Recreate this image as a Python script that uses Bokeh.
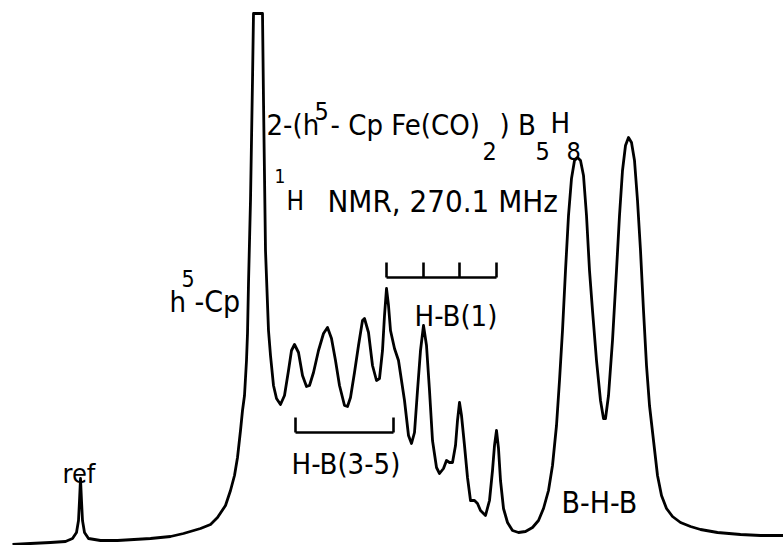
from bokeh.plotting import figure
from bokeh.models import Range1d
from bokeh.core.properties import value
from bokeh.embed import file_html
from bokeh.resources import INLINE

# Spectrum trace: horizontal position (chart units) and signal height
shift = [12, 30, 50, 65, 72, 76, 78, 79, 80, 81, 82, 84, 88, 100, 117, 150, 170, 183, 200, 210,
         217, 225, 230, 234, 237, 240, 242, 244, 246, 247, 248, 250, 252, 253, 262, 263, 265, 268,
         270, 273, 276, 280, 284, 288, 291, 294, 298, 302, 306, 309, 313, 318, 323, 327, 331, 335,
         339, 344, 347, 350, 354, 358, 362, 364, 368, 372, 376, 379, 382, 384, 386, 388, 390, 394,
         398, 401, 404, 408, 411, 414, 417, 420, 423, 426, 429, 432, 436, 439, 443, 446, 449, 452,
         455, 457, 459, 461, 464, 467, 470, 474, 477, 480, 485, 489, 492, 494, 496, 498, 500, 503,
         507, 512, 518, 525, 532, 538, 543, 548, 552, 556, 559, 562, 565, 568, 571, 574, 577, 580,
         583, 586, 589, 592, 596, 600, 603, 605, 608, 612, 616, 619, 622, 625, 628, 631, 634, 637,
         640, 643, 646, 649, 653, 657, 661, 666, 672, 680, 690, 700, 717, 740, 760, 783]
signal = [1, 2, 3, 4, 7, 13, 25, 45, 67, 45, 25, 13, 7, 5, 5, 7, 9, 12, 17, 21,
          28, 40, 55, 70, 88, 115, 135, 150, 185, 212, 262, 345, 465, 532, 532, 445, 295, 215,
          190, 160, 147, 141, 150, 175, 195, 201, 193, 170, 159, 160, 173, 195, 212, 218, 207, 185,
          160, 140, 139, 148, 173, 200, 225, 227, 213, 180, 165, 167, 195, 230, 257, 240, 215, 197,
          185, 165, 145, 110, 102, 113, 155, 195, 220, 200, 155, 105, 78, 72, 77, 85, 83, 83,
          100, 125, 143, 130, 100, 68, 45, 45, 42, 35, 30, 45, 75, 100, 115, 97, 65, 37,
          23, 15, 13, 14, 18, 25, 37, 55, 80, 120, 165, 215, 275, 330, 367, 385, 388, 385,
          370, 330, 275, 235, 185, 145, 127, 127, 150, 205, 275, 330, 375, 400, 408, 403, 385, 345,
          295, 235, 180, 140, 105, 70, 50, 37, 29, 23, 19, 16, 13, 11, 10, 10]

# Assignment brackets (peak positions)
hb1_peaks = [386, 423, 459, 496]
hb35_span = [295, 393]

FONT = "DejaVu Sans Condensed"
H = 545  # reference height, for converting text baselines

p = figure(width=783, height=545, x_range=Range1d(0, 783), y_range=Range1d(0, 545),
           output_backend="svg", toolbar_location=None, min_border=0)
p.axis.visible = False
p.grid.visible = False
p.outline_line_color = None
p.background_fill_color = "white"

p.line(shift, signal, line_color="black", line_width=2.8, line_join="round")

# brackets
lw = 2.6
p.segment(x0=[hb1_peaks[0]], y0=[H - 277], x1=[hb1_peaks[-1]], y1=[H - 277], line_color="black", line_width=lw)
p.segment(x0=hb1_peaks, y0=[H - 277] * len(hb1_peaks), x1=hb1_peaks, y1=[H - 262] * len(hb1_peaks),
          line_color="black", line_width=lw)
p.segment(x0=[hb35_span[0]], y0=[H - 432], x1=[hb35_span[1]], y1=[H - 432], line_color="black", line_width=lw)
p.segment(x0=hb35_span, y0=[H - 432] * 2, x1=hb35_span, y1=[H - 417] * 2, line_color="black", line_width=lw)


def label(txt, x, base, size):
    p.text(x=[x], y=[H - base], text=[txt], text_font=value(FONT), text_font_size=f"{size}px",
           text_baseline="alphabetic", text_align="left", text_color="black")


# title line 1: 2-(h5-Cp Fe(CO)2) B5H8
label("2-(h", 266, 124, 29)
label("5", 314, 110, 25)
label("- Cp Fe(CO)", 330, 124, 29)
label("2", 482, 150, 25)
label(") B", 499, 124, 29)
label("5", 535, 150, 25)
label("H", 550, 122, 29)
label("8", 566, 150, 25)

# title line 2: 1H NMR, 270.1 MHz
label("1", 274, 175, 19)
label("H", 286, 200, 26)
label("NMR, 270.1 MHz", 327, 200, 31)

# peak labels
label("h", 169, 301, 29)
label("5", 181, 278, 23)
label("-Cp", 194, 301, 30)
label("ref", 62, 473, 27)
label("H-B(1)", 414, 315, 29)
label("H-B(3-5)", 291, 463, 29)
label("B-H-B", 561, 502, 30)

open("out.html", "w").write(file_html(p, INLINE))
